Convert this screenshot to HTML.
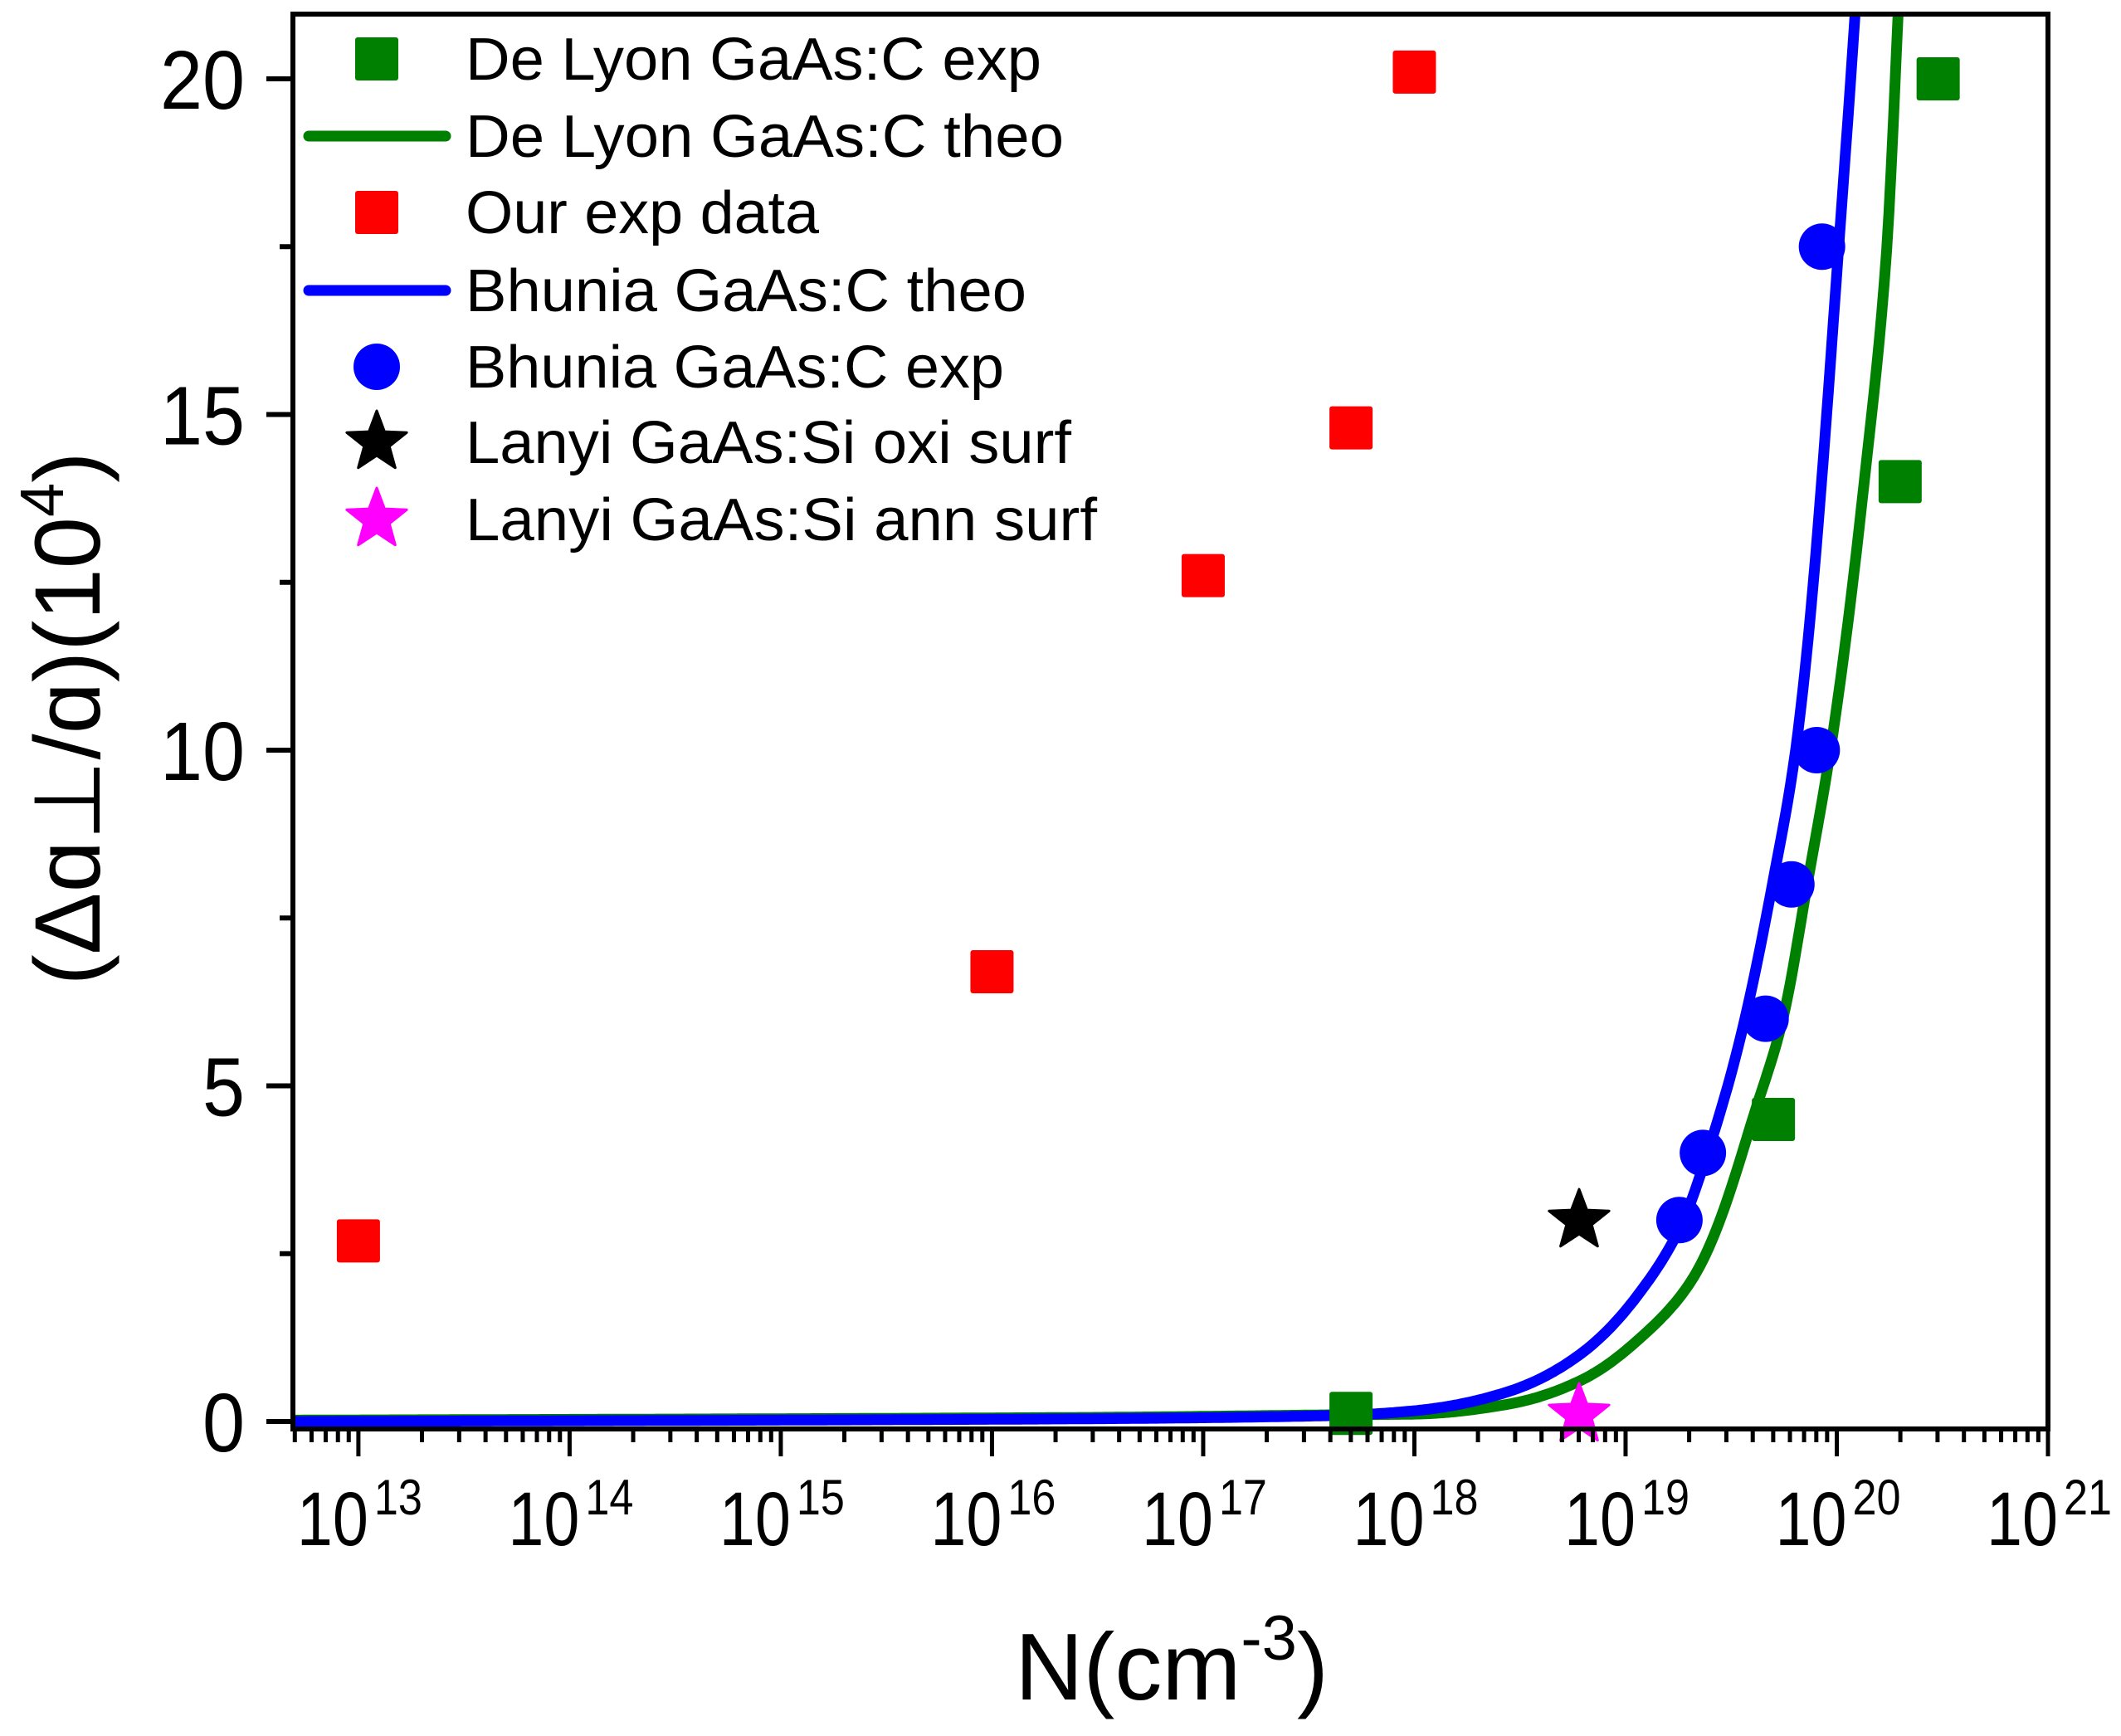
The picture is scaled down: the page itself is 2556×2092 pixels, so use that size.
<!DOCTYPE html>
<html><head><meta charset="utf-8"><style>
html,body{margin:0;padding:0;background:#fff;}
svg{display:block;}
text{font-family:"Liberation Sans",sans-serif;fill:#000;}
</style></head><body>
<svg id="chart" width="2556" height="2092" viewBox="0 0 2556 2092" xmlns="http://www.w3.org/2000/svg">
<rect width="2556" height="2092" fill="#fff"/>
</svg>
<script>
// ---- data ----
const redX = [13, 16, 17, 17.70, 18];
const redY = [2.69, 6.7, 12.6, 14.8, 20.1];
const greenX = [17.70, 19.70, 20.30, 20.48];
const greenY = [0.12, 4.5, 14.0, 20.0];
const blueX = [19.255, 19.366, 19.663, 19.785, 19.905, 19.93];
const blueY = [3.0, 4.0, 6.0, 8.0, 10.0, 17.5];
const blackStarX = [18.78];
const blackStarY = [3.04];
const pinkStarX = [18.78];
const pinkStarY = [0.15];
const blueTheoX = [12.69, 16.41, 17.64, 18.0, 18.43, 18.78, 19.05, 19.27, 19.388, 19.565, 19.695, 19.805, 20.008, 20.086];
const blueTheoY = [0.0, 0.04, 0.09, 0.16, 0.43, 0.99, 1.85, 2.97, 4.0, 6.0, 8.0, 10.0, 17.45, 20.94];
const greenTheoX = [12.69, 16.41, 17.64, 18.0, 18.43, 18.78, 19.05, 19.32, 19.6, 19.745, 19.86, 19.97, 20.13, 20.236, 20.29];
const greenTheoY = [0.02, 0.06, 0.1, 0.11, 0.25, 0.6, 1.19, 2.14, 4.49, 6.0, 8.0, 10.0, 14.0, 17.45, 20.94];
const xTickExps = [13,14,15,16,17,18,19,20,21];
const yTickVals = [0,5,10,15,20];
const yTickLabels = ["0","5","10","15","20"];
const legendLabels = ["De Lyon GaAs:C exp","De Lyon GaAs:C theo","Our exp data","Bhunia GaAs:C theo","Bhunia GaAs:C exp","Lanyi GaAs:Si oxi surf","Lanyi GaAs:Si ann surf"];

// ---- axes ----
const L=353, R=2468, T=17, B=1722;
const xMin=12.69, xMax=21, y0px=1713, yPerUnit=80.9;
function sx(e){return L+(e-xMin)/(xMax-xMin)*(R-L);}
function sy(v){return y0px-v*yPerUnit;}
const NS="http://www.w3.org/2000/svg";
const svg=document.getElementById('chart');
function mk(tag,attrs,parent){const el=document.createElementNS(NS,tag);for(const k in attrs)el.setAttribute(k,attrs[k]);(parent||svg).appendChild(el);return el;}

const clip=mk('clipPath',{id:'clipPlot'});mk('rect',{x:L,y:T,width:R-L,height:B-T},clip);
const gC=mk('g',{'clip-path':'url(#clipPlot)'});



function curve(xs,ys,color,name){
  const n=xs.length, off=0.1;
  const u=ys.map(v=>Math.log(v+off));
  const dl=[],m=new Array(n);
  for(let i=0;i<n-1;i++) dl.push((u[i+1]-u[i])/(xs[i+1]-xs[i]));
  m[0]=dl[0]; m[n-1]=dl[n-2];
  for(let i=1;i<n-1;i++){ m[i]=(dl[i-1]*dl[i]<=0)?0:2/(1/dl[i-1]+1/dl[i]); }
  let d='';
  for(let i=0;i<n-1;i++){
    const h=xs[i+1]-xs[i];
    const steps=Math.max(4,Math.ceil(h*80));
    for(let s=(i===0?0:1);s<=steps;s++){
      const t=s/steps, t2=t*t, t3=t2*t;
      const val=(2*t3-3*t2+1)*u[i]+(t3-2*t2+t)*h*m[i]+(-2*t3+3*t2)*u[i+1]+(t3-t2)*h*m[i+1];
      const x=xs[i]+t*h, y=Math.exp(val)-off;
      d+=(d?'L':'M')+sx(x).toFixed(1)+' '+sy(y).toFixed(1);
    }
  }
  const p=mk('path',{d:d,fill:'none',stroke:color,'stroke-width':13,'stroke-linejoin':'round'},gC);
  
  
}
curve(greenTheoX,greenTheoY,'#008000','de-lyon-theo-curve');
curve(blueTheoX,blueTheoY,'#0000ff','bhunia-theo-curve');

function square(cx,cy,color,name,parent){
  const r=mk('rect',{x:cx-26,y:cy-26,width:52,height:52,rx:3,fill:color},parent||svg);
  
  
}
function circle(cx,cy,color,name,parent){
  const c=mk('ellipse',{cx:cx,cy:cy,rx:28,ry:28,fill:color},parent||svg);
  
  
}
function star(cx,cy,color,name,parent){
  let pts=[];
  for(let i=0;i<10;i++){const a=-Math.PI/2+i*Math.PI/5;const rr=i%2?16:38;pts.push((cx+rr*Math.cos(a)).toFixed(1)+','+(cy+4+rr*Math.sin(a)).toFixed(1));}
  const p=mk('polygon',{points:pts.join(' '),fill:color,'stroke':color,'stroke-width':3,'stroke-linejoin':'round'},parent||svg);
  
  
}
for(let i=0;i<greenX.length;i++) square(sx(greenX[i]),sy(greenY[i]),'#008000','de-lyon-exp-point');
for(let i=0;i<redX.length;i++) square(sx(redX[i]),sy(redY[i]),'#ff0000','our-exp-point');
for(let i=0;i<blueX.length;i++) circle(sx(blueX[i]),sy(blueY[i]),'#0000ff','bhunia-exp-point');
for(let i=0;i<blackStarX.length;i++) star(sx(blackStarX[i]),sy(blackStarY[i]),'#000000','lanyi-oxi-point');
for(let i=0;i<pinkStarX.length;i++) star(sx(pinkStarX[i]),sy(pinkStarY[i]),'#ff00ff','lanyi-ann-point');

const frame=mk('rect',{x:L,y:T,width:R-L,height:B-T,fill:'none',stroke:'#000','stroke-width':6});



const gx=mk('g',{});


for(let e=12;e<=21;e++){
  for(let m=1;m<10;m++){
    const v=e+Math.log10(m);
    if(v<xMin-0.001||v>xMax+0.001)continue;
    const x=sx(v);const len=m===1?33:16;
    mk('line',{x1:x,y1:B,x2:x,y2:B+len,stroke:'#000','stroke-width':5},gx);
  }
}
for(let i=0;i<xTickExps.length;i++){
  const x=sx(xTickExps[i]);
  const g=mk('g',{},gx);
  
  
  const a=mk('text',{x:x-74,y:1862,'font-size':92,textLength:86,lengthAdjust:'spacingAndGlyphs'},g);a.textContent='10';
  const b=mk('text',{x:x+19,y:1825,'font-size':60,textLength:58,lengthAdjust:'spacingAndGlyphs'},g);b.textContent=String(xTickExps[i]);
}
const gy=mk('g',{});


for(let v=0;v<=20;v+=2.5){
  const y=sy(v);const major=(v%5===0);
  mk('line',{x1:L,y1:y,x2:L-(major?32:16),y2:y,stroke:'#000','stroke-width':6},gy);
}
for(let i=0;i<yTickVals.length;i++){
  const lab=yTickLabels[i];
  const w=lab.length*51;
  const t=mk('text',{x:295-w,y:sy(yTickVals[i])+36,'font-size':100,textLength:w,lengthAdjust:'spacingAndGlyphs'},gy);
  
  
  t.textContent=lab;
}
const xt=mk('text',{x:1412,y:2048,'font-size':114,'text-anchor':'middle'});


mk('tspan',{},xt).textContent='N(cm';
const sup=mk('tspan',{'font-size':76,dy:-48},xt);sup.textContent='-3';
const cl=mk('tspan',{dy:48},xt);cl.textContent=')';

const yt=mk('text',{x:0,y:0,'font-size':112,'text-anchor':'middle',transform:'translate(120,866) rotate(-90)'});


mk('tspan',{},yt).textContent='(\u0394\u0251\u22A5/\u0251)(10';
const ys=mk('tspan',{'font-size':74,dy:-44},yt);ys.textContent='4';
const yc=mk('tspan',{dy:44},yt);yc.textContent=')';

const lg=mk('g',{});


const rowC=[71,164,256,350,442,533,626];
const widths=[694,721,426,676,649,730,761];
for(let i=0;i<legendLabels.length;i++){
  const cy=rowC[i];
  if(i===0) square(454,cy,'#008000','legend-symbol',lg);
  if(i===1){const l=mk('line',{x1:372,y1:cy,x2:537,y2:cy,stroke:'#008000','stroke-width':13,'stroke-linecap':'round'},lg);}
  if(i===2) square(454,cy,'#ff0000','legend-symbol',lg);
  if(i===3){const l=mk('line',{x1:372,y1:cy,x2:537,y2:cy,stroke:'#0000ff','stroke-width':13,'stroke-linecap':'round'},lg);}
  if(i===4) circle(454,cy,'#0000ff','legend-symbol',lg);
  if(i===5) star(454,cy-4,'#000000','legend-symbol',lg);
  if(i===6) star(454,cy-4,'#ff00ff','legend-symbol',lg);
  const t=mk('text',{x:561,y:cy+25,'font-size':72,textLength:widths[i],lengthAdjust:'spacingAndGlyphs'},lg);
  
  
  t.textContent=legendLabels[i];
}
</script>
</body></html>
